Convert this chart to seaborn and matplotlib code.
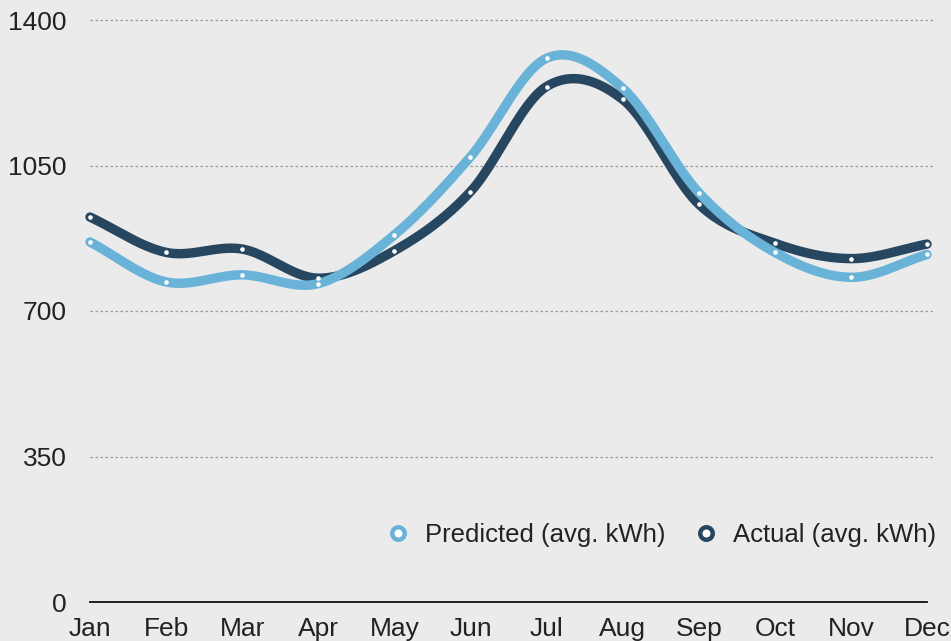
import numpy as np
import pandas as pd
import matplotlib
matplotlib.use("Agg")
import matplotlib.pyplot as plt
from matplotlib.lines import Line2D
import seaborn as sns

# -------- DATA --------
months = ["Jan", "Feb", "Mar", "Apr", "May", "Jun",
          "Jul", "Aug", "Sep", "Oct", "Nov", "Dec"]
predicted = [866, 770, 787, 766, 883, 1071, 1308, 1236, 985, 841, 781, 836]
actual = [926, 841, 849, 779, 845, 987, 1240, 1209, 957, 863, 826, 861]

pred_color = "#6ab3d8"
act_color = "#274660"
bg = "#ebebeb"

sns.set_theme(style="white")
plt.rcParams["font.family"] = ["Liberation Sans", "DejaVu Sans"]


# catmull-rom smoothing, only for drawing the curve between the points
def smooth(y, n=24):
    y = np.asarray(y, dtype=float)
    p = np.concatenate([[2 * y[0] - y[1]], y, [2 * y[-1] - y[-2]]])
    xs, ys = [], []
    t = np.linspace(0, 1, n, endpoint=False)
    for i in range(1, len(p) - 2):
        p0, p1, p2, p3 = p[i - 1], p[i], p[i + 1], p[i + 2]
        seg = 0.5 * ((2 * p1) + (-p0 + p2) * t
                     + (2 * p0 - 5 * p1 + 4 * p2 - p3) * t ** 2
                     + (-p0 + 3 * p1 - 3 * p2 + p3) * t ** 3)
        xs.extend(i - 1 + t)
        ys.extend(seg)
    xs.append(len(y) - 1)
    ys.append(y[-1])
    return np.array(xs), np.array(ys)


fig = plt.figure(figsize=(9.51, 6.41), dpi=100, facecolor=bg)
ax = fig.add_axes([90 / 951, 1 - 602 / 641, 837 / 951, 582 / 641])
ax.set_facecolor(bg)

# smooth curves (actual underneath)
for vals, col in [(actual, act_color), (predicted, pred_color)]:
    sx, sy = smooth(vals)
    curve = pd.DataFrame({"x": sx, "y": sy})
    sns.lineplot(data=curve, x="x", y="y", color=col, linewidth=6.8,
                 sort=False, ax=ax, clip_on=False, solid_capstyle="round",
                 estimator=None)
    pts = pd.DataFrame({"x": np.arange(len(vals)), "y": vals})
    sns.scatterplot(data=pts, x="x", y="y", s=11, color="white",
                    linewidth=0, ax=ax, clip_on=False, zorder=5)

ax.set_xlim(0, len(months) - 1)
ax.set_ylim(0, 1400)
ax.set_xticks(range(len(months)))
ax.set_xticklabels(months)
ax.set_yticks([0, 350, 700, 1050, 1400])
ax.set_xlabel("")
ax.set_ylabel("")

for v in [350, 700, 1050, 1400]:
    ax.axhline(v, xmin=0, xmax=1.01, color="#9a9a9a", linestyle=(0, (2, 2)),
               linewidth=0.9, zorder=0, clip_on=False)

for s in ["top", "right", "left"]:
    ax.spines[s].set_visible(False)
ax.spines["bottom"].set_color("#111111")
ax.spines["bottom"].set_linewidth(1.3)

ax.tick_params(axis="x", length=0, pad=11, labelsize=19, colors="#222222")
ax.tick_params(axis="y", length=0, pad=17, labelsize=19, colors="#222222")

handles = [
    Line2D([], [], linestyle="none", marker="o", markersize=9,
           markerfacecolor="white", markeredgecolor=pred_color,
           markeredgewidth=3.2),
    Line2D([], [], linestyle="none", marker="o", markersize=9,
           markerfacecolor="white", markeredgecolor=act_color,
           markeredgewidth=3.2),
]
ax.legend(handles, ["Predicted (avg. kWh)", "Actual (avg. kWh)"],
          loc="center right", bbox_to_anchor=(1.039, 0.115), ncol=2,
          frameon=False, fontsize=18.5, handlelength=1.0, handletextpad=0.55,
          columnspacing=1.1, labelcolor="#222222")

fig.savefig("out.png", dpi=100, facecolor=bg)
